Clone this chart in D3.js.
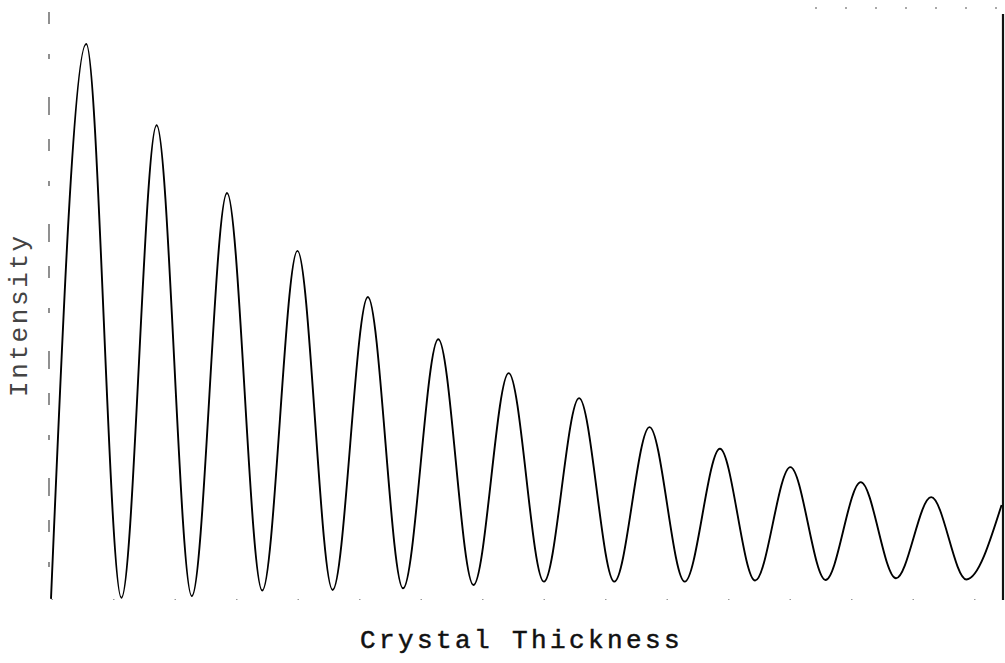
<!DOCTYPE html>
<html>
<head>
<meta charset="utf-8">
<script src="https://cdn.jsdelivr.net/npm/d3@7"></script>
<style>
  html, body { margin: 0; padding: 0; background: #fff; }
  svg { display: block; }
</style>
</head>
<body>
<svg id="chart" width="1005" height="663"></svg>
<script>
// Crystal thickness (in units of the extinction distance), alternating minima and maxima
const thickness = [0, 0.5, 1, 1.5, 2, 2.5, 3, 3.5, 4, 4.5, 5, 5.5, 6, 6.5,
                   7, 7.5, 8, 8.5, 9, 9.5, 10, 10.5, 11, 11.5, 12, 12.5, 13, 13.5];
// Diffracted intensity (relative)
const intensity = [0.002, 1.000, 0.004, 0.854, 0.007, 0.732, 0.017, 0.628,
                   0.018, 0.545, 0.021, 0.469, 0.027, 0.408, 0.033, 0.363,
                   0.033, 0.311, 0.033, 0.272, 0.035, 0.239, 0.036, 0.212,
                   0.039, 0.185, 0.037, 0.171];
const xDomain = [0, 13.52];
const yDomain = [0, 1];
const xTitle = "Crystal Thickness";
const yTitle = "Intensity";

const svg = d3.select("#chart");
const x = d3.scaleLinear().domain(xDomain).range([51, 1003]);
const y = d3.scaleLinear().domain(yDomain).range([600, 44]);

const points = thickness.map((t, i) => [t, intensity[i]]);

svg.append("defs").append("clipPath").attr("id", "plotclip")
  .append("rect").attr("x", 40).attr("y", 0).attr("width", 963).attr("height", 610);

// left axis (faded, broken)
const yAxis = d3.axisLeft(y).tickValues([]).tickSizeOuter(0);
const gy = svg.append("g").call(yAxis);
gy.select(".domain").attr("stroke", "#555").attr("stroke-width", 1.3)
  .attr("stroke-dasharray", "12,30,5,38,18,24")
  .attr("d", "M49,12V600");

// bottom axis (mostly faded)
const xAxis = d3.axisBottom(x).tickValues([]).tickSizeOuter(0);
const gx = svg.append("g").attr("transform", "translate(0,599)").call(xAxis);
gx.select(".domain").attr("stroke", "#999").attr("stroke-width", 1)
  .attr("stroke-dasharray", "1.5,60");

// right border
svg.append("line").attr("x1", 1003).attr("x2", 1003).attr("y1", 14).attr("y2", 600)
  .attr("stroke", "#111").attr("stroke-width", 2.2);
// top border remnants
svg.append("line").attr("x1", 815).attr("x2", 1003).attr("y1", 8).attr("y2", 8)
  .attr("stroke", "#555").attr("stroke-width", 1.2).attr("stroke-dasharray", "2,28");

// curve
const line = d3.line().x(d => x(d[0])).y(d => y(d[1])).curve(d3.curveMonotoneX);
svg.append("path")
  .datum(points)
  .attr("clip-path", "url(#plotclip)")
  .attr("fill", "none")
  .attr("stroke", "#000")
  .attr("stroke-width", 1.9)
  .attr("d", line);

// titles
svg.append("text")
  .attr("x", 360).attr("y", 648)
  .attr("font-family", "'Liberation Mono', 'DejaVu Sans Mono', monospace")
  .attr("font-size", 26)
  .attr("letter-spacing", 3.4)
  .attr("fill", "#111")
  .attr("stroke", "#111").attr("stroke-width", 0.5)
  .text(xTitle);

svg.append("text")
  .attr("transform", "translate(27,397) rotate(-90)")
  .attr("font-family", "'Liberation Mono', 'DejaVu Sans Mono', monospace")
  .attr("font-size", 26)
  .attr("letter-spacing", 2.6)
  .attr("fill", "#444")
  .text(yTitle);
</script>
</body>
</html>
